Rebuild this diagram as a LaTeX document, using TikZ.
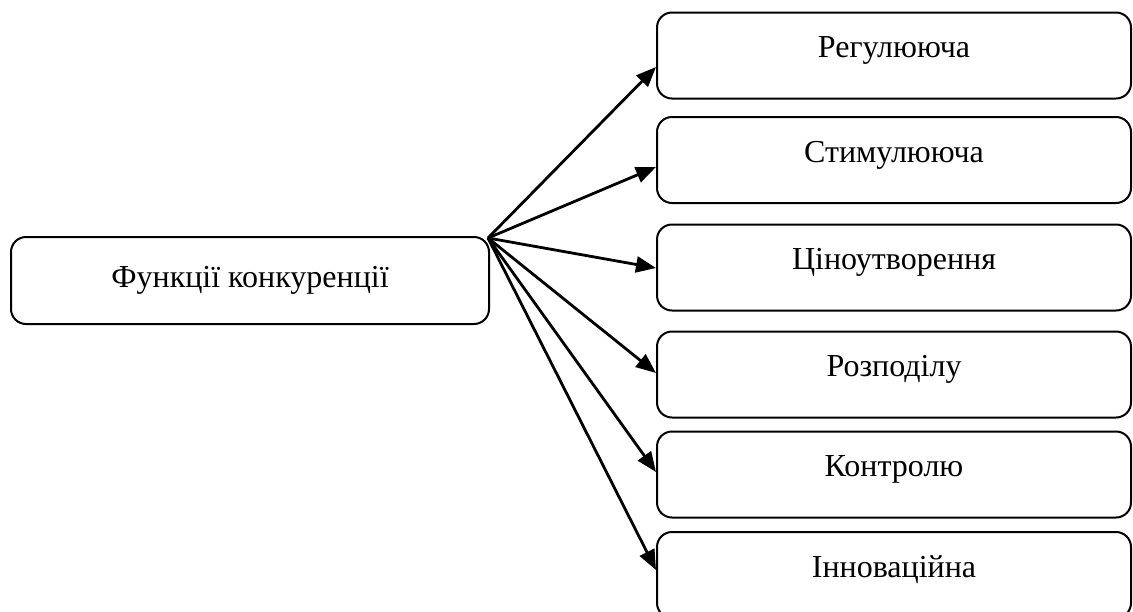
\documentclass[tikz,border=0pt]{standalone}
\usepackage{fontspec}
\setmainfont{Liberation Serif}
\usetikzlibrary{arrows.meta}

\begin{document}
\begin{tikzpicture}[
    x=1pt,y=-1pt,
    >={Triangle[length=20pt,width=16pt]},
    fbox/.style={draw,line width=2pt,rounded corners=15pt,inner sep=0pt,
                 font=\fontsize{32}{38}\selectfont},
    rbox/.style={fbox,minimum width=474pt,text height=45pt,text depth=41pt},
    link/.style={->,line width=2.8pt},
  ]
  \useasboundingbox (0,0) rectangle (1133,611);
  \clip (0,0) rectangle (1133,611);

  % ---------- source ----------
  \node[fbox,minimum width=478pt,text height=50pt,text depth=37pt]
       (fn) at (250,280.5) {Функції конкуренції};

  % ---------- functions, top to bottom ----------
  \foreach \i/\y/\d/\t in {1/55.5/11.5/Регулююча, 2/160/7/Стимулююча,
                           3/267.5/0.5/Ціноутворення, 4/374.5/-1.5/Розподілу,
                           5/474.5/-2.5/Контролю, 6/575/-5/Інноваційна}
    {\node[rbox] (f\i) at (894,\y) {\t};
     \draw[link] ([xshift=-2pt,yshift=-2pt]fn.north east) -- ([yshift=-\d pt]f\i.west);}
\end{tikzpicture}
\end{document}
